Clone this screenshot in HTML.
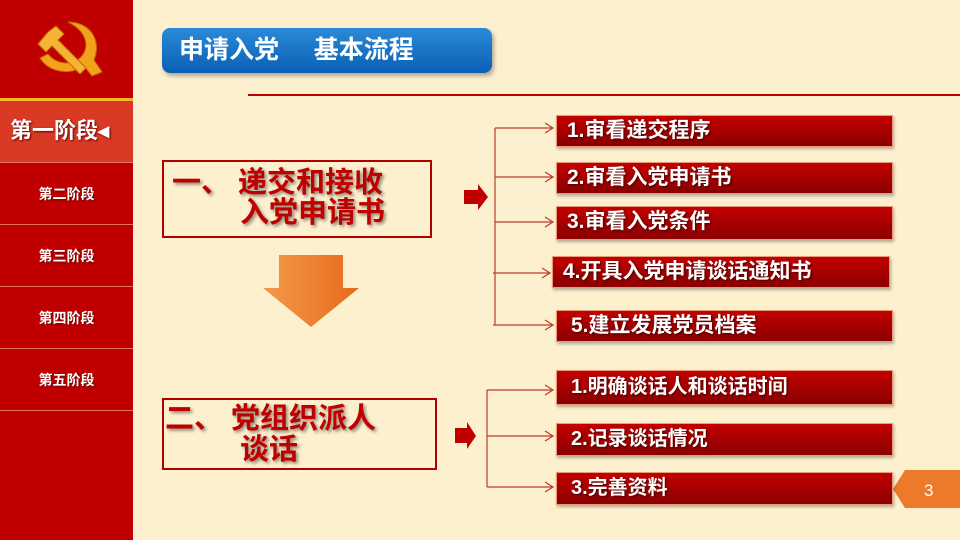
<!DOCTYPE html>
<html><head><meta charset="utf-8"><style>
*{margin:0;padding:0;box-sizing:border-box}
body{width:960px;height:540px;overflow:hidden;background:#fdf0cf;position:relative;font-family:"Liberation Sans","Noto Sans CJK SC",sans-serif}
.a{position:absolute}
.side{left:0;top:0;width:133px;height:540px;background:#c00000}
.nav{left:0;width:133px;height:62px;color:#fff;font-weight:bold;font-size:14px;text-align:center;line-height:62px;border-bottom:1px solid #e07060;text-shadow:1px 1px 2px #600}
.item{height:32px;background:linear-gradient(#c30000,#8a0000);border:1px solid #e89a7a;color:#fff;font-weight:bold;font-size:21px;line-height:30px;padding-left:10px;box-shadow:1px 2px 3px rgba(0,0,0,.3);text-shadow:1px 1px 2px #400;white-space:nowrap}
.box{border:2.5px solid #b00000}
.t{color:#c00000;font-weight:bold;font-size:29px;line-height:31px;text-shadow:2px 2px 3px rgba(0,0,0,.45);white-space:pre}
</style></head><body>
<div class="a side"></div>
<svg class="a" style="left:28px;top:18px" width="80" height="64" viewBox="0 0 80 64">
<path d="M40 4 C62 4 74 22 66 42 L74 54 L64 58 L56 48 C42 58 20 54 12 40 L20 36 C28 46 42 48 52 40 C62 30 60 14 40 4Z" fill="#f3a21e" stroke="#c46a00"/>
<path d="M20 14 L28 8 L36 16 L30 22 L58 50 L52 56 L24 28 L18 34 L10 26Z" fill="#f7b335" stroke="#c46a00"/>
</svg>
<div class="a" style="left:0;top:98px;width:133px;height:3px;background:#f5b62a"></div>
<div class="a nav" style="top:101px;height:62px;background:#d93a24;font-size:22px;line-height:60px;text-align:left;padding-left:10px">第一阶段◂</div>
<div class="a nav" style="top:163px">第二阶段</div>
<div class="a nav" style="top:225px">第三阶段</div>
<div class="a nav" style="top:287px">第四阶段</div>
<div class="a nav" style="top:349px">第五阶段</div>
<div class="a" style="left:162px;top:28px;width:330px;height:45px;border-radius:8px;background:linear-gradient(#2b8ad8,#0a5fb4);box-shadow:2px 3px 4px rgba(0,0,0,.3);color:#fff;font-weight:bold;font-size:25px;line-height:45px;padding-left:17px;white-space:pre">申请入党     基本流程</div>
<div class="a" style="left:248px;top:94px;width:712px;height:2px;background:#c00000"></div>
<div class="a box" style="left:162px;top:160px;width:270px;height:78px"></div>
<div class="a t" style="left:172px;top:168px">一、 递交和接收</div>
<div class="a t" style="left:240px;top:198px">入党申请书</div>
<svg class="a" style="left:263px;top:255px" width="96" height="72"><defs><linearGradient id="g" x1="0" x2="1"><stop offset="0" stop-color="#f29a4a"/><stop offset="1" stop-color="#e86a1c"/></linearGradient></defs><path d="M16 0 H80 V33 H96 L48 72 L0 33 H16Z" fill="url(#g)"/></svg>
<div class="a box" style="left:162px;top:398px;width:275px;height:72px"></div>
<div class="a t" style="left:165px;top:404px">二、 党组织派人</div>
<div class="a t" style="left:240px;top:435px">谈话</div>
<svg class="a" style="left:0;top:0" width="960" height="540">
<g fill="#c00000"><path d="M464 190 H478 V184 L488 197 L478 210 V204 H464Z"/><path d="M455 428 H467 V422 L476 436 L467 449 V443 H455Z"/></g>
<g stroke="#c0392b" stroke-width="1.2" fill="none">
<path d="M495 128 V325"/>
<path d="M495 128 H553 M495 177 H553 M495 222 H553 M493 273 H550 M493 325 H553"/>
<path d="M487 390 V487 M487 390 H553 M487 436 H553 M487 487 H553"/>
<path d="M545 123 L553 128 L545 133 M545 172 L553 177 L545 182 M545 217 L553 222 L545 227 M542 268 L550 273 L542 278 M545 320 L553 325 L545 330 M545 385 L553 390 L545 395 M545 431 L553 436 L545 441 M545 482 L553 487 L545 492"/>
</g>
<path d="M905 470 H960 V508 H905 L893 489Z" fill="#ec7a2a"/>
<text x="924" y="496" fill="#fff" font-size="17" font-family="Liberation Sans">3</text>
</svg>
<div class="a item" style="left:556px;top:115px;width:337px">1.审看递交程序</div>
<div class="a item" style="left:556px;top:162px;width:337px">2.审看入党申请书</div>
<div class="a item" style="left:556px;top:206px;width:337px;height:34px">3.审看入党条件</div>
<div class="a item" style="left:552px;top:256px;width:338px">4.开具入党申请谈话通知书</div>
<div class="a item" style="left:556px;top:310px;width:337px;padding-left:14px">5.建立发展党员档案</div>
<div class="a item" style="left:556px;top:370px;width:337px;height:35px;padding-left:14px;line-height:33px;font-size:20px">1.明确谈话人和谈话时间</div>
<div class="a item" style="left:556px;top:423px;width:337px;height:33px;padding-left:14px;font-size:20px">2.记录谈话情况</div>
<div class="a item" style="left:556px;top:472px;width:337px;height:33px;padding-left:14px;font-size:20px">3.完善资料</div>
</body></html>
